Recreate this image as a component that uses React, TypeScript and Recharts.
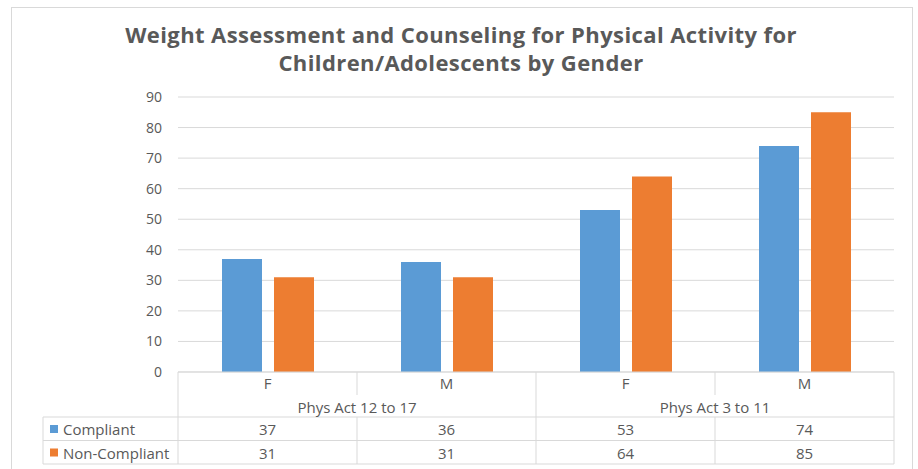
import React from "react";
import { BarChart, Bar, XAxis, YAxis, CartesianGrid } from "recharts";

const genders = ["F", "M", "F", "M"];
const ageGroups = ["Phys Act 12 to 17", "Phys Act 3 to 11"];
const compliant = [37, 36, 53, 74];
const nonCompliant = [31, 31, 64, 85];
const yTicks = [0, 10, 20, 30, 40, 50, 60, 70, 80, 90];

const SERIES = [
  { key: "compliant", name: "Compliant", color: "#5B9BD5", values: compliant },
  { key: "nonCompliant", name: "Non-Compliant", color: "#ED7D31", values: nonCompliant },
];

const data = genders.map((g, i) => ({
  gender: g,
  group: ageGroups[Math.floor(i / 2)],
  compliant: compliant[i],
  nonCompliant: nonCompliant[i],
}));

const W = 918;
const H = 469;
const LINE = "#D9D9D9";
const TEXT = "#595959";
const FONT = "'Open Sans', sans-serif";

// row offsets below the category axis line
const ROW_GENDER = 11;
const ROW_GROUP = 35;
const ROW_TOP = 45;
const ROW_H = 23.5;
const LEGEND_X = 43;

// draws one column of the data table under the plot
function TableTick(props: any) {
  const { x, y, payload, index } = props;
  const band = payload?.offset ? payload.offset * 2 : 179;
  const left = x - band / 2;
  const right = x + band / 2;
  const bottom = y + ROW_TOP + ROW_H * 2;
  const lastInGroup = index % 2 === 1;
  const txt = { fill: TEXT, fontSize: 15, fontFamily: FONT, dominantBaseline: "central" as const };

  return (
    <g>
      {index === 0 && (
        <g>
          <line x1={left} x2={left} y1={y} y2={bottom} stroke={LINE} />
          <line x1={LEGEND_X} x2={LEGEND_X} y1={y + ROW_TOP} y2={bottom} stroke={LINE} />
          {SERIES.map((s, r) => (
            <g key={s.key}>
              <line x1={LEGEND_X} x2={left} y1={y + ROW_TOP + ROW_H * r} y2={y + ROW_TOP + ROW_H * r} stroke={LINE} />
              <rect x={50} y={y + ROW_TOP + ROW_H * r + 8} width={8} height={8} fill={s.color} />
              <text x={63} y={y + ROW_TOP + ROW_H * r + 12} {...txt}>
                {s.name}
              </text>
            </g>
          ))}
          <line x1={LEGEND_X} x2={left} y1={bottom} y2={bottom} stroke={LINE} />
        </g>
      )}
      <line x1={left} x2={right} y1={y} y2={y} stroke={LINE} />
      <text x={x} y={y + ROW_GENDER} textAnchor="middle" {...txt}>
        {payload.value}
      </text>
      {lastInGroup ? (
        <g>
          <line x1={right} x2={right} y1={y} y2={bottom} stroke={LINE} />
          <text x={left} y={y + ROW_GROUP} textAnchor="middle" {...txt}>
            {ageGroups[Math.floor(index / 2)]}
          </text>
        </g>
      ) : (
        <g>
          <line x1={right} x2={right} y1={y} y2={y + 23} stroke={LINE} />
          <line x1={right} x2={right} y1={y + ROW_TOP} y2={bottom} stroke={LINE} />
        </g>
      )}
      {SERIES.map((s, r) => (
        <g key={s.key}>
          <line x1={left} x2={right} y1={y + ROW_TOP + ROW_H * r} y2={y + ROW_TOP + ROW_H * r} stroke={LINE} />
          <text x={x} y={y + ROW_TOP + ROW_H * r + 12} textAnchor="middle" {...txt}>
            {s.values[index]}
          </text>
        </g>
      ))}
      <line x1={left} x2={right} y1={bottom} y2={bottom} stroke={LINE} />
    </g>
  );
}

export default function App() {
  return (
    <div
      style={{
        position: "absolute",
        left: 0,
        top: 0,
        width: W,
        height: H,
        background: "#fff",
        overflow: "hidden",
        fontFamily: FONT,
      }}
    >
      <div
        style={{
          position: "absolute",
          left: 11,
          top: 7,
          width: 902,
          height: 480,
          border: `1px solid ${LINE}`,
          boxSizing: "border-box",
        }}
      />
      <div
        style={{
          position: "absolute",
          left: 0,
          top: 20,
          width: 922,
          textAlign: "center",
          color: TEXT,
          fontSize: 22,
          fontWeight: 700,
          letterSpacing: 0.4,
          lineHeight: "28px",
        }}
      >
        Weight Assessment and Counseling for Physical Activity for
        <br />
        Children/Adolescents by Gender
      </div>
      <BarChart
        width={W}
        height={H}
        data={data}
        margin={{ top: 97, right: 24, bottom: 4, left: 0 }}
        barSize={40}
        barGap={12}
        style={{ position: "absolute", left: 0, top: 0 }}
      >
        <CartesianGrid vertical={false} stroke={LINE} />
        <YAxis
          width={178}
          domain={[0, 90]}
          ticks={yTicks}
          interval={0}
          axisLine={false}
          tickLine={false}
          tickSize={0}
          tickMargin={16}
          tick={{ fill: TEXT, fontSize: 14, fontFamily: FONT }}
        />
        <XAxis
          dataKey="gender"
          height={93}
          interval={0}
          axisLine={false}
          tickLine={false}
          tickSize={0}
          tickMargin={0}
          tick={<TableTick />}
        />
        {SERIES.map((s) => (
          <Bar key={s.key} dataKey={s.key} name={s.name} fill={s.color} isAnimationActive={false} />
        ))}
      </BarChart>
    </div>
  );
}
